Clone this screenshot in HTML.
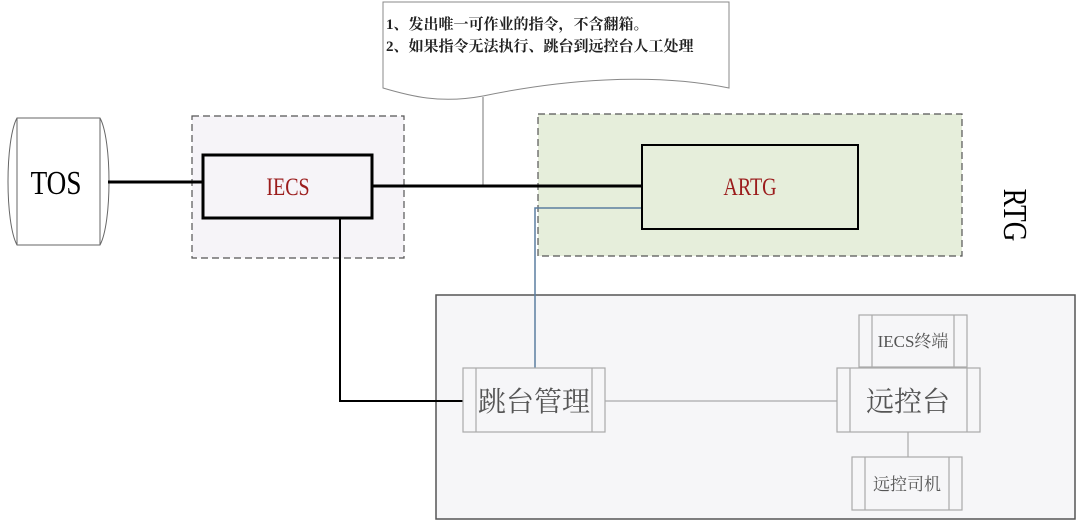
<!DOCTYPE html>
<html><head><meta charset="utf-8"><style>
html,body{margin:0;padding:0;background:#fff;width:1080px;height:523px;overflow:hidden}
text{font-family:"Liberation Serif","Noto Serif CJK SC",serif}
</style></head><body>
<svg width="1080" height="523" viewBox="0 0 1080 523" xmlns="http://www.w3.org/2000/svg">
<path d="M383,2 L729,2 L729,88 C650,72 560,80 483,96 C440,104 410,96 383,88 Z" fill="#fff" stroke="#888" stroke-width="1"/>
<text x="386" y="29" font-size="15" font-weight="bold" fill="#222">1、发出唯一可作业的指令，不含翻箱。</text>
<text x="386" y="51" font-size="15" font-weight="bold" fill="#222">2、如果指令无法执行、跳台到远控台人工处理</text>
<line x1="483" y1="97" x2="483" y2="186" stroke="#777" stroke-width="1"/>
<rect x="192" y="116" width="212" height="142" fill="#f6f4f8" stroke="#555" stroke-width="1.2" stroke-dasharray="7,4"/>
<rect x="538" y="114" width="424" height="142" fill="#e6eedb" stroke="#555" stroke-width="1.2" stroke-dasharray="7,4"/>
<rect x="436" y="295" width="639" height="224" fill="#f6f6f8" stroke="#555" stroke-width="1.5"/>
<path d="M17,118 L100,118 C112,140 112,223 100,245 L17,245 C5,223 5,140 17,118 Z" fill="#fff" stroke="#666" stroke-width="1"/>
<line x1="17" y1="118" x2="17" y2="245" stroke="#666"/>
<line x1="100" y1="118" x2="100" y2="245" stroke="#666"/>
<text font-size="34" text-anchor="middle" fill="#000" transform="translate(56,194) scale(0.8,1)">TOS</text>
<line x1="108" y1="182" x2="203" y2="182" stroke="#000" stroke-width="3"/>
<line x1="372" y1="186" x2="642" y2="186" stroke="#000" stroke-width="3"/>
<polyline points="642,208 535,208 535,368" fill="none" stroke="#5b7fa0" stroke-width="1.5"/>
<polyline points="340,218 340,401 463,401" fill="none" stroke="#000" stroke-width="2"/>
<line x1="605" y1="401" x2="837" y2="401" stroke="#aaa" stroke-width="1.2"/>
<line x1="908" y1="432" x2="908" y2="457" stroke="#aaa" stroke-width="1.2"/>
<rect x="203" y="155" width="169" height="63" fill="#f6f4f8" stroke="#000" stroke-width="3"/>
<text font-size="25" text-anchor="middle" fill="#9b1c1c" transform="translate(288,195) scale(0.8,1)">IECS</text>
<rect x="642" y="145" width="216" height="84" fill="#e6eedb" stroke="#000" stroke-width="2"/>
<text font-size="25" text-anchor="middle" fill="#9b1c1c" transform="translate(750,195) scale(0.8,1)">ARTG</text>
<text font-size="34" fill="#000" transform="translate(1004,215) rotate(90) scale(0.8,1)" text-anchor="middle">RTG</text>
<g fill="#f6f6f8" stroke="#aaa" stroke-width="1.2">
<rect x="463" y="368" width="142" height="64"/><line x1="476" y1="368" x2="476" y2="432"/><line x1="592" y1="368" x2="592" y2="432"/>
<rect x="837" y="368" width="143" height="64"/><line x1="850" y1="368" x2="850" y2="432"/><line x1="967" y1="368" x2="967" y2="432"/>
<rect x="859" y="315" width="108" height="52"/><line x1="872" y1="315" x2="872" y2="367"/><line x1="954" y1="315" x2="954" y2="367"/>
<rect x="852" y="457" width="110" height="53"/><line x1="865" y1="457" x2="865" y2="510"/><line x1="949" y1="457" x2="949" y2="510"/>
</g>
<text x="534" y="411" font-size="28" text-anchor="middle" fill="#555">跳台管理</text>
<text x="908" y="411" font-size="28" text-anchor="middle" fill="#555">远控台</text>
<text x="913" y="347" font-size="17" text-anchor="middle" fill="#555">IECS终端</text>
<text x="907" y="490" font-size="17" text-anchor="middle" fill="#555">远控司机</text>
</svg>
</body></html>
